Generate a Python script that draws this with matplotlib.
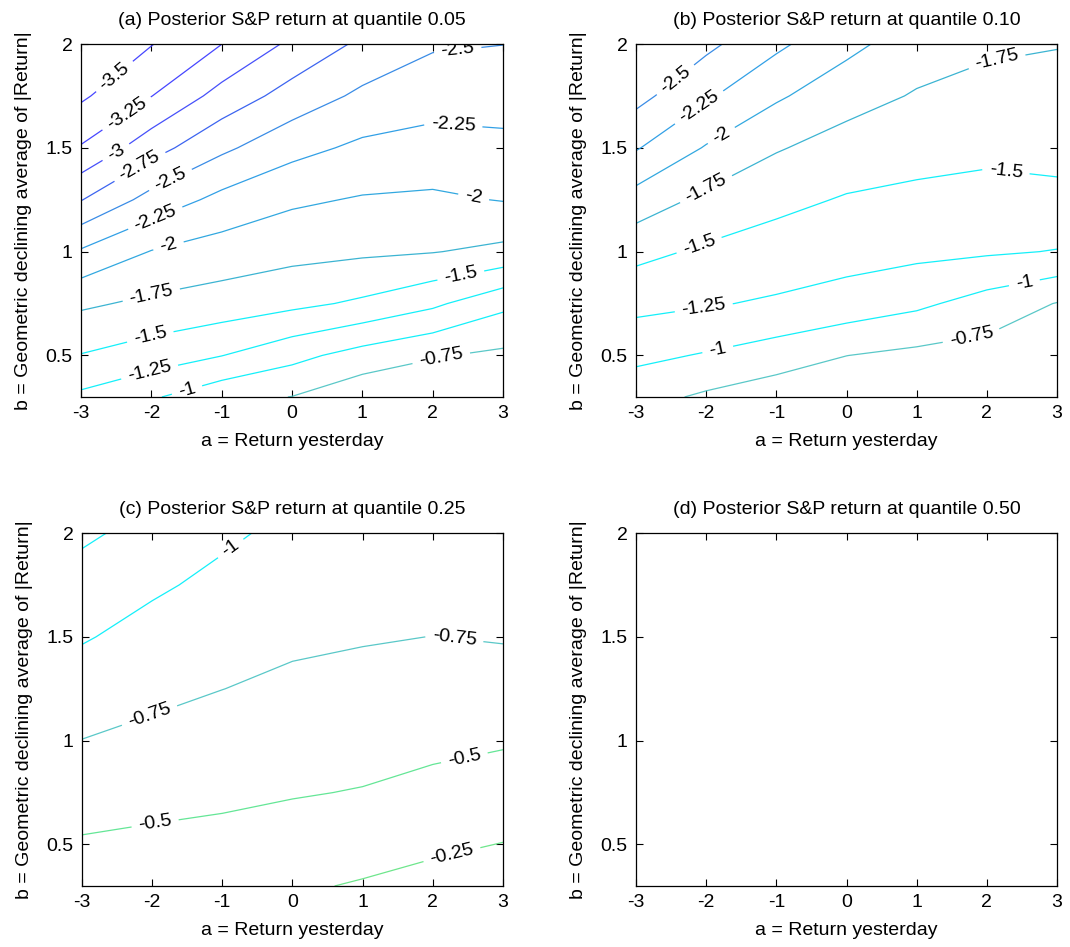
import numpy as np
import matplotlib
matplotlib.use("Agg")
import matplotlib.pyplot as plt

plt.rcParams['font.family'] = ['Liberation Sans', 'DejaVu Sans']
plt.rcParams['axes.unicode_minus'] = False

# grid of the posterior return quantiles
a_vals = [-3, -2, -1, 0, 1, 2, 3]
b_vals = [0.3, 0.5, 0.75, 1.0, 1.25, 1.5, 1.75, 2.0]

# rows follow b_vals, columns follow a_vals
q05 = [
    [-1.20, -1.03, -0.83, -0.745, -0.57, -0.55, -0.53],
    [-1.49, -1.38, -1.255, -1.075, -0.90, -0.77, -0.70],
    [-1.79, -1.70, -1.64, -1.56, -1.46, -1.30, -1.06],
    [-2.22, -1.99, -1.89, -1.825, -1.79, -1.76, -1.69],
    [-2.76, -2.41, -2.18, -2.04, -1.98, -1.96, -2.01],
    [-3.23, -2.85, -2.55, -2.33, -2.20, -2.16, -2.19],
    [-3.54, -3.255, -2.91, -2.65, -2.45, -2.35, -2.35],
    [-3.70, -3.51, -3.252, -2.95, -2.70, -2.53, -2.503],
]
q10 = [
    [-0.84, -0.71, -0.60, -0.55, -0.55, -0.53, -0.52],
    [-1.06, -0.98, -0.88, -0.752, -0.69, -0.65, -0.62],
    [-1.32, -1.27, -1.22, -1.15, -1.05, -0.90, -0.74],
    [-1.57, -1.46, -1.39, -1.345, -1.31, -1.28, -1.24],
    [-1.90, -1.69, -1.565, -1.48, -1.446, -1.42, -1.445],
    [-2.27, -1.98, -1.77, -1.65, -1.586, -1.555, -1.57],
    [-2.58, -2.285, -2.035, -1.845, -1.73, -1.673, -1.664],
    [-2.72, -2.56, -2.30, -2.07, -1.87, -1.79, -1.76],
]
q25 = [
    [-0.367, -0.356, -0.353, -0.28, -0.23, -0.175, -0.13],
    [-0.475, -0.452, -0.437, -0.393, -0.345, -0.29, -0.244],
    [-0.61, -0.572, -0.542, -0.515, -0.489, -0.436, -0.386],
    [-0.746, -0.692, -0.647, -0.61, -0.585, -0.554, -0.524],
    [-0.884, -0.808, -0.752, -0.705, -0.677, -0.651, -0.647],
    [-1.02, -0.92, -0.848, -0.79, -0.767, -0.748, -0.766],
    [-1.157, -1.035, -0.944, -0.868, -0.85, -0.836, -0.866],
    [-1.29, -1.175, -1.04, -0.945, -0.93, -0.923, -0.966],
]

levels = [-3.5, -3.25, -3.0, -2.75, -2.5, -2.25, -2.0, -1.75,
          -1.5, -1.25, -1.0, -0.75, -0.5, -0.25]
level_colors = ['#4646ff', '#4646ff', '#4650fa', '#3c64f0', '#3a8ce6',
                '#32a0e6', '#32a8e0', '#3cb4d2', '#14f0fa', '#14f0fa',
                '#14f0fa', '#5ac8c8', '#64e696', '#6ee68c']

titles = ['(a) Posterior S&P return at quantile 0.05',
          '(b) Posterior S&P return at quantile 0.10',
          '(c) Posterior S&P return at quantile 0.25',
          '(d) Posterior S&P return at quantile 0.50']

# where MATLAB put the inline labels
label_spots = [
    [(-2.49, 1.83), (-2.32, 1.65), (-2.47, 1.46), (-2.13, 1.39), (-1.72, 1.34),
     (-1.93, 1.15), (2.36, 1.96), (2.29, 1.60), (2.57, 1.24), (-1.75, 1.02),
     (-2.0, 0.79), (-2.0, 0.57), (-2.02, 0.415), (-1.49, 0.33), (2.42, 0.85),
     (2.12, 0.49)],
    [(-2.42, 1.82), (-2.07, 1.68), (-1.75, 1.54), (-2.0, 1.30), (2.13, 1.94),
     (-2.1, 1.03), (2.26, 1.355), (-2.03, 0.72), (-1.83, 0.52), (2.54, 0.84),
     (1.75, 0.65)],
    [(-0.89, 1.93), (-2.03, 1.114), (2.3, 1.475), (-1.95, 0.584),
     (2.46, 0.90), (2.27, 0.454)],
]

fig = plt.figure(figsize=(10.7, 9.47), dpi=100)
positions = [[0.0757, 0.5808, 0.3944, 0.3727],
             [0.5944, 0.5808, 0.3935, 0.3727],
             [0.0766, 0.0644, 0.3935, 0.3727],
             [0.5944, 0.0644, 0.3935, 0.3727]]

A, B = np.meshgrid(a_vals, b_vals)
fields = [q05, q10, q25, None]

for i in range(4):
    ax = fig.add_axes(positions[i])
    Z = fields[i]
    if Z is not None:
        Z = np.array(Z)
        used = [l for l in levels if Z.min() < l < Z.max()]
        cols = [level_colors[levels.index(l)] for l in used]
        cs = ax.contour(A, B, Z, levels=used, colors=cols, linewidths=0.9)
        ax.clabel(cs, inline=True, fontsize=14, colors='k',
                  fmt=lambda v: f'{v:g}', inline_spacing=7,
                  manual=label_spots[i])
    ax.set_xlim(-3, 3)
    ax.set_ylim(0.3, 2)
    ax.set_xticks([-3, -2, -1, 0, 1, 2, 3])
    ax.set_yticks([0.5, 1, 1.5, 2])
    ax.set_yticklabels(['0.5', '1', '1.5', '2'])
    ax.tick_params(direction='in', top=True, right=True, length=5,
                   labelsize=14, pad=6, width=0.8)
    for s in ax.spines.values():
        s.set_linewidth(0.9)
    ax.set_title(titles[i], fontsize=14, pad=14)
    ax.set_xlabel('a = Return yesterday', fontsize=14, labelpad=8)
    ax.set_ylabel('b = Geometric declining average of |Return|', fontsize=14,
                  labelpad=10)

fig.savefig('out.png', dpi=100)
